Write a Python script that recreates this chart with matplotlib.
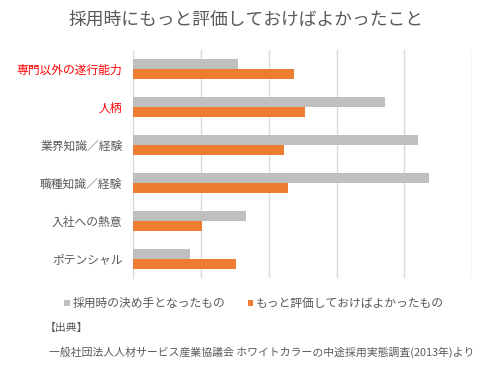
import matplotlib.pyplot as plt
import numpy as np

plt.rcParams['font.family'] = ['Noto Sans CJK JP', 'DejaVu Sans']

# ---- data (percent) ----
categories = ["専門以外の遂行能力", "人柄", "業界知識／経験", "職種知識／経験", "入社への熱意", "ポテンシャル"]
decisive = [15.4, 37.2, 42.1, 43.6, 16.7, 8.4]        # 採用時の決め手となったもの
should_have = [23.7, 25.3, 22.2, 22.9, 10.2, 15.1]    # もっと評価しておけばよかったもの
series_labels = ["採用時の決め手となったもの", "もっと評価しておけばよかったもの"]
label_colors = ["#ff0000", "#ff0000", "#595959", "#595959", "#595959", "#595959"]

GRAY = "#bfbfbf"
ORANGE = "#ed7d31"
TEXT = "#595959"

fig = plt.figure(figsize=(4.87, 3.85), dpi=100)
ax = fig.add_axes([0.274, 0.278, 0.695, 0.592])

y = np.arange(len(categories))
h = 0.265
ax.barh(y - h / 2, decisive, height=h, color=GRAY, label=series_labels[0], zorder=3)
ax.barh(y + h / 2, should_have, height=h, color=ORANGE, label=series_labels[1], zorder=3)

ax.set_ylim(len(categories) - 0.5, -0.5)
ax.set_xlim(0, 50)
ax.set_xticks(np.arange(0, 51, 10))
ax.set_xticklabels([])
ax.tick_params(axis="x", length=0)
ax.tick_params(axis="y", length=0, pad=8)
ax.set_yticks(y)
ax.set_yticklabels(categories, fontsize=8.5)
for lbl, c in zip(ax.get_yticklabels(), label_colors):
    lbl.set_color(c)

ax.grid(axis="x", color="#d9d9d9", linewidth=1, zorder=0)
for s in ["top", "right", "bottom"]:
    ax.spines[s].set_visible(False)
ax.spines["left"].set_color("#d9d9d9")

fig.text(0.505, 0.948, "採用時にもっと評価しておけばよかったこと", ha="center", va="center",
         fontsize=12.8, color=TEXT)

ax.legend(loc="center", bbox_to_anchor=(0.522, 0.212), bbox_transform=fig.transFigure,
          ncol=2, frameon=False, fontsize=8.5, labelcolor=TEXT, handlelength=0.45, handleheight=0.45,
          handletextpad=0.25, columnspacing=1.9)

fig.text(45 / 487, 1 - 328 / 385, "【出典】", ha="left", va="center", fontsize=7.8, color=TEXT)
fig.text(49 / 487, 1 - 352 / 385, "一般社団法人人材サービス産業協議会 ホワイトカラーの中途採用実態調査(2013年)より",
         ha="left", va="center", fontsize=7.8, color=TEXT)

fig.savefig("out.png", dpi=100)
